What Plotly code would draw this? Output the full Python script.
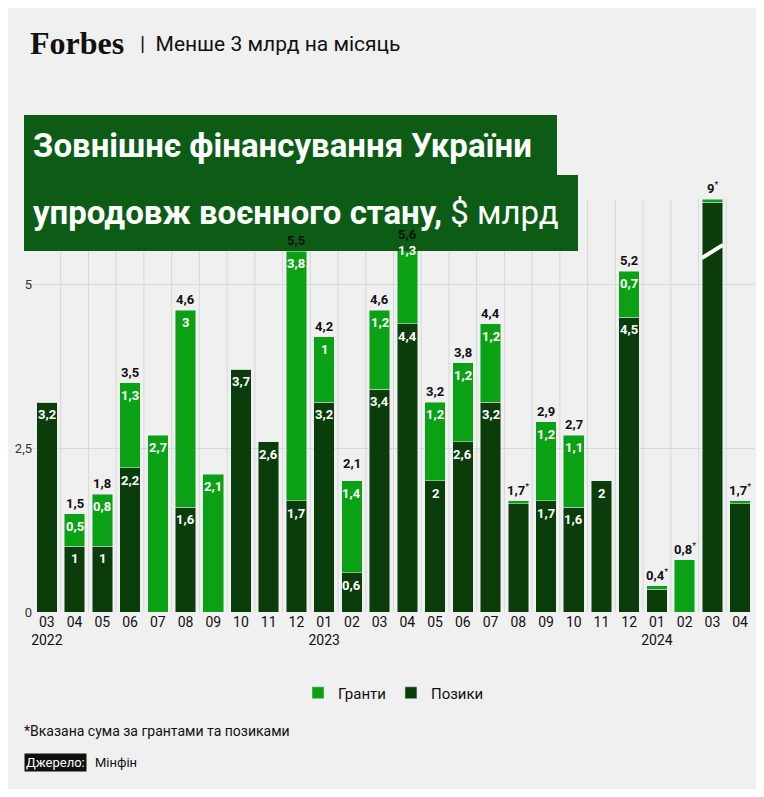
import plotly.graph_objects as go

months = ["03","04","05","06","07","08","09","10","11","12","01","02","03","04","05","06","07","08","09","10","11","12","01","02","03","04"]
years = {0:"2022",10:"2023",22:"2024"}
loans  = [3.2,1.0,1.0,2.2,0,1.6,0,3.7,2.6,1.7,3.2,0.6,3.4,4.4,2.0,2.6,3.2,1.65,1.7,1.6,2.0,4.5,0.35,0,6.25,1.65]
grants = [0,0.5,0.8,1.3,2.7,3.0,2.1,0,0,3.8,1.0,1.4,1.2,1.3,1.2,1.2,1.2,0.05,1.2,1.1,0,0.7,0.05,0.8,0.05,0.05]
totals = [3.2,1.5,1.8,3.5,2.7,4.6,2.1,3.7,2.6,5.5,4.2,2.1,4.6,5.6,3.2,3.8,4.4,1.7,2.9,2.7,2.0,5.2,0.4,0.8,9,1.7]
starred = [17,22,23,24,25]

n = len(months)
x = list(range(n))
labels = [m + ("<br>" + years[i] if i in years else "") for i, m in enumerate(months)]

def f(v):
    return ("%g" % v).replace(".", ",")

DARK = "#0b3d0b"; LIGHT = "#0aa114"
fig = go.Figure()
fig.add_bar(x=x, y=loans, name="Позики", marker_color=DARK, width=0.74)
fig.add_bar(x=x, y=grants, name="Гранти", marker_color=LIGHT, width=0.74)

ann = []
for i in x:
    two = loans[i] > 0 and grants[i] > 0 and i not in starred
    if i in starred:
        ann.append(dict(x=i, y=loans[i]+grants[i], text="<b>"+f(totals[i])+"</b><sup>*</sup>", showarrow=False, yanchor="bottom", yshift=1, font=dict(size=13, color="#111")))
        continue
    if two:
        ann.append(dict(x=i, y=totals[i], text="<b>"+f(totals[i])+"</b>", showarrow=False, yanchor="bottom", yshift=1, font=dict(size=13, color="#111")))
    if loans[i] > 0:
        ann.append(dict(x=i, y=loans[i], text="<b>"+f(loans[i])+"</b>", showarrow=False, yanchor="top", yshift=-3, font=dict(size=13, color="white")))
    if grants[i] > 0:
        ann.append(dict(x=i, y=loans[i]+grants[i], text="<b>"+f(grants[i])+"</b>", showarrow=False, yanchor="top", yshift=-3, font=dict(size=13, color="white")))

shapes = []
for i in range(n - 1):
    shapes.append(dict(type="line", xref="x", yref="paper", x0=i+0.5, x1=i+0.5, y0=0, y1=1, line=dict(color="#d8d8d8", width=1), layer="below"))
shapes.append(dict(type="line", xref="x", yref="y", x0=23.62, x1=24.38, y0=5.4, y1=5.6, line=dict(color="white", width=4)))
fig.update_layout(shapes=shapes)

OFF = 8
W, H = 764 - 2*OFF, 797 - 2*OFF
L, R, T, B = 33 - OFF, 2, 199 - OFF, 797 - OFF - 612
def px(xp): return (xp - OFF - L) / (W - L - R)
def py(yp): return (H - B - (yp - OFF)) / (H - T - B)
for x0, x1, y0, y1 in [(24, 557, 115, 175), (24, 578, 175, 251)]:
    fig.add_shape(type="rect", xref="paper", yref="paper", x0=px(x0), x1=px(x1), y0=py(y1), y1=py(y0), fillcolor="#0c5c16", line=dict(width=0))

ann += [
    dict(xref="paper", yref="paper", x=px(28), y=py(43), xanchor="left", yanchor="middle", showarrow=False,
         text="<b>Forbes</b>", font=dict(family="Liberation Serif", size=32, color="#111")),
    dict(xref="paper", yref="paper", x=px(138), y=py(44), xanchor="left", yanchor="middle", showarrow=False,
         text="|  Менше 3 млрд на місяць", font=dict(family="Roboto", size=21, color="#111")),
    dict(xref="paper", yref="paper", x=px(31), y=py(145), xanchor="left", yanchor="middle", showarrow=False,
         text="<b>Зовнішнє фінансування України</b>", font=dict(family="Roboto", size=33, color="white")),
    dict(xref="paper", yref="paper", x=px(31), y=py(212), xanchor="left", yanchor="middle", showarrow=False,
         text="<b>упродовж воєнного стану,</b> $ млрд", font=dict(family="Roboto", size=33, color="white")),
    dict(xref="paper", yref="paper", x=px(22), y=py(731), xanchor="left", yanchor="middle", showarrow=False,
         text="*Вказана сума за грантами та позиками", font=dict(family="Roboto", size=14, color="#111")),
    dict(xref="paper", yref="paper", x=px(24), y=py(762), xanchor="left", yanchor="middle", showarrow=False,
         text="Джерело:", bgcolor="#111", font=dict(family="Roboto", size=13, color="white")),
    dict(xref="paper", yref="paper", x=px(93), y=py(762), xanchor="left", yanchor="middle", showarrow=False,
         text="Мінфін", font=dict(family="Roboto", size=13, color="#111")),
]

fig.update_layout(
    width=W, height=H, barmode="stack",
    paper_bgcolor="#f0f0f0", plot_bgcolor="#f0f0f0",
    margin=dict(l=L, r=R, t=T, b=B),
    font=dict(family="Roboto", size=14, color="#111"),
    separators=", ",
    annotations=ann,
    xaxis=dict(tickmode="array", tickvals=x, ticktext=labels, range=[-0.5, n-0.5], showgrid=False, ticks="", tickfont=dict(size=14)),
    yaxis=dict(range=[0, 6.3], tickvals=[0, 2.5, 5], ticktext=["0", "2,5", "5"], showgrid=True, gridcolor="#d8d8d8",
               zeroline=False, ticks="", tickfont=dict(size=13, color="#333")),
    legend=dict(orientation="h", x=0.5, xanchor="center", y=py(693), yanchor="middle", traceorder="reversed",
                font=dict(size=15), itemwidth=30),
)
fig.write_html("out.html")
